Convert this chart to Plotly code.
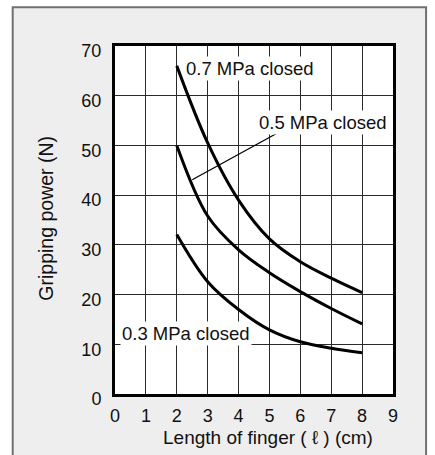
import plotly.graph_objects as go

# ---- data ----
finger_len = [2, 3, 4, 5, 6, 7, 8]
p07_closed = [66.0, 50.5, 39.0, 31.2, 26.6, 23.3, 20.4]
p05_closed = [50.0, 35.8, 29.0, 24.4, 20.6, 17.2, 14.1]
p03_closed = [32.1, 22.6, 17.0, 12.9, 10.5, 9.2, 8.3]

x_ticks = list(range(0, 10))
y_ticks = list(range(0, 80, 10))

series = [
    ("0.7 MPa closed", p07_closed),
    ("0.5 MPa closed", p05_closed),
    ("0.3 MPa closed", p03_closed),
]

FONT = "Liberation Sans, Arial, sans-serif"

fig = go.Figure()
for name, vals in series:
    fig.add_trace(go.Scatter(
        x=finger_len, y=vals, mode="lines", name=name,
        line=dict(color="black", width=3, shape="spline", smoothing=1.0),
        showlegend=False, hoverinfo="skip",
    ))

# outer framed panel and white plot area
fig.add_shape(type="rect", xref="paper", yref="paper",
              x0=-0.368, x1=1.119, y0=-0.4, y1=1.111,
              fillcolor="#eeeeee", line=dict(color="#707070", width=2), layer="below")
fig.add_shape(type="rect", xref="paper", yref="paper",
              x0=0, x1=1, y0=0, y1=1,
              fillcolor="white", line=dict(width=0), layer="below")

# leader line for 0.5 MPa label
fig.add_shape(type="line", xref="x", yref="y",
              x0=5.23, y0=52.4, x1=2.5, y1=43.1,
              line=dict(color="black", width=1.3))

ann_font = dict(family=FONT, size=18.5, color="#111111")
fig.add_annotation(x=2.23, y=65.5, xref="x", yref="y", text="0.7 MPa closed",
                   showarrow=False, xanchor="left", yanchor="middle",
                   bgcolor="white", borderpad=1, font=ann_font)
fig.add_annotation(x=4.59, y=54.6, xref="x", yref="y", text="0.5 MPa closed",
                   showarrow=False, xanchor="left", yanchor="middle",
                   bgcolor="white", borderpad=1, font=ann_font)
fig.add_annotation(x=0.15, y=12.25, xref="x", yref="y", text="0.3 MPa closed",
                   showarrow=False, xanchor="left", yanchor="middle",
                   bgcolor="white", borderpad=1, font=ann_font)

# axis titles
fig.add_annotation(x=0.549, y=-0.124, xref="paper", yref="paper",
                   text="Length of finger ( ℓ ) (cm)", showarrow=False,
                   xanchor="center", yanchor="middle",
                   font=dict(family=FONT, size=19, color="#111111"))
fig.add_annotation(x=-0.248, y=0.504, xref="paper", yref="paper",
                   text="Gripping power (N)", showarrow=False, textangle=-90,
                   xanchor="center", yanchor="middle",
                   font=dict(family=FONT, size=19.5, color="#111111"))

axis_common = dict(
    showgrid=True, gridcolor="#2a2a2a", gridwidth=1,
    showline=True, linecolor="black", linewidth=3, mirror=True,
    zeroline=False, ticks="",
    tickfont=dict(family=FONT, size=18, color="#111111"),
    fixedrange=True, automargin=False,
)

fig.update_xaxes(range=[0, 9], tickvals=x_ticks, ticktext=[str(v) for v in x_ticks],
                 ticklabelstandoff=3, **axis_common)
fig.update_yaxes(range=[0, 70], tickvals=y_ticks, ticktext=[str(v) for v in y_ticks],
                 ticklabelshift=5, ticklabelstandoff=7, **axis_common)

fig.update_layout(
    width=435, height=455,
    margin=dict(l=115, r=42, t=46, b=61, pad=0),
    paper_bgcolor="white", plot_bgcolor="white",
    font=dict(family=FONT),
)

fig.write_html("out.html", config={"displayModeBar": False},
               post_script="document.body.style.margin='0';document.documentElement.style.overflow='hidden';")
